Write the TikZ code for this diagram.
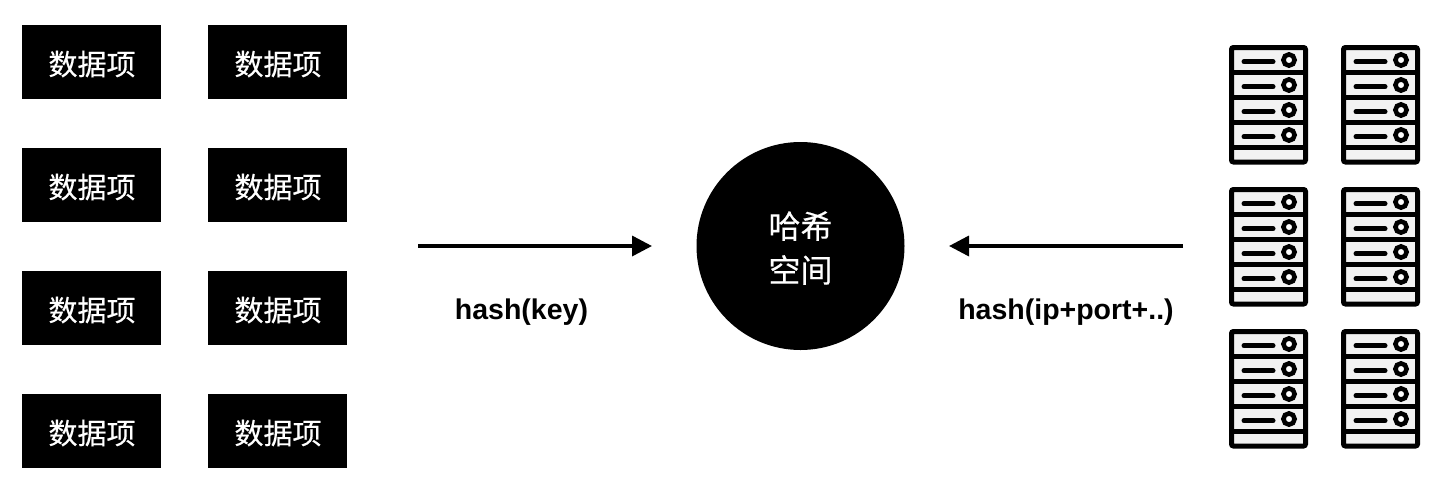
\documentclass[tikz,border=0pt]{standalone}
\usepackage{fontspec}
\setmainfont{Liberation Sans}
\newfontfamily\cjk[FakeBold=0.4]{Noto Sans CJK SC}
\usetikzlibrary{arrows.meta}
\tikzset{
  item/.style={fill=black,minimum width=139pt,minimum height=74pt,inner sep=0pt},
  itemtext/.style={text=white,inner sep=0pt,font=\cjk\fontsize{29}{30}\selectfont},
  hashcirc/.style={circle,fill=black,minimum size=208pt,inner sep=0pt},
  hashtext/.style={text=white,inner sep=0pt,align=center,font=\cjk\fontsize{32}{44}\selectfont},
  lab/.style={inner sep=0pt,font=\bfseries\fontsize{28.5}{30}\selectfont},
  conn/.style={line width=3.5pt,-{Triangle[length=20pt,width=20pt]}},
  server/.pic={
    \draw[line width=5pt,fill=black!5,rounded corners=2pt] (2.5,2.5) rectangle (76.5,117);
    \foreach \d in {27,52,77,102}{\draw[line width=5pt] (2.5,\d) -- (76.5,\d);}
    \foreach \d/\e in {15/16.7,40/41.7,65/66.7,90/91.7}{
      \draw[line width=5pt,line cap=round] (15,\e) -- (44,\e);
      \draw[line width=4.6pt,fill=white] (60,\d) circle (5.6);
    }
  }
}
\begin{document}
\begin{tikzpicture}[x=1pt,y=-1pt]
\useasboundingbox (0,0) rectangle (1446,488);
\foreach \r/\y in {a/62,b/185,c/308,d/431}{
  \node[item] (\r1) at (91.5,\y) {};
  \node[itemtext] (\r1t) at (92,\y+2) {数据项};
  \node[item] (\r2) at (277.5,\y) {};
  \node[itemtext] (\r2t) at (278,\y+2) {数据项};
}
\node[hashcirc] (hash) at (800.5,246) {};
\node[hashtext] (hasht) at (800.5,248) {哈希\\空间};
\coordinate (dataEnd) at (418,246);
\coordinate (dataTip) at (652,246);
\coordinate (srvEnd) at (1183,246);
\coordinate (srvTip) at (949,246);
\draw[conn] (dataEnd) -- (dataTip);
\draw[conn] (srvEnd) -- (srvTip);
\node[lab] (l1) at (521.5,312.5) {hash(key)};
\node[lab] (l2) at (1066,312.5) {hash(ip+port+..)};
\foreach \y in {45,187,329}{
  \pic at (1229,\y) {server};
  \pic at (1341,\y) {server};
}
\end{tikzpicture}
\end{document}
